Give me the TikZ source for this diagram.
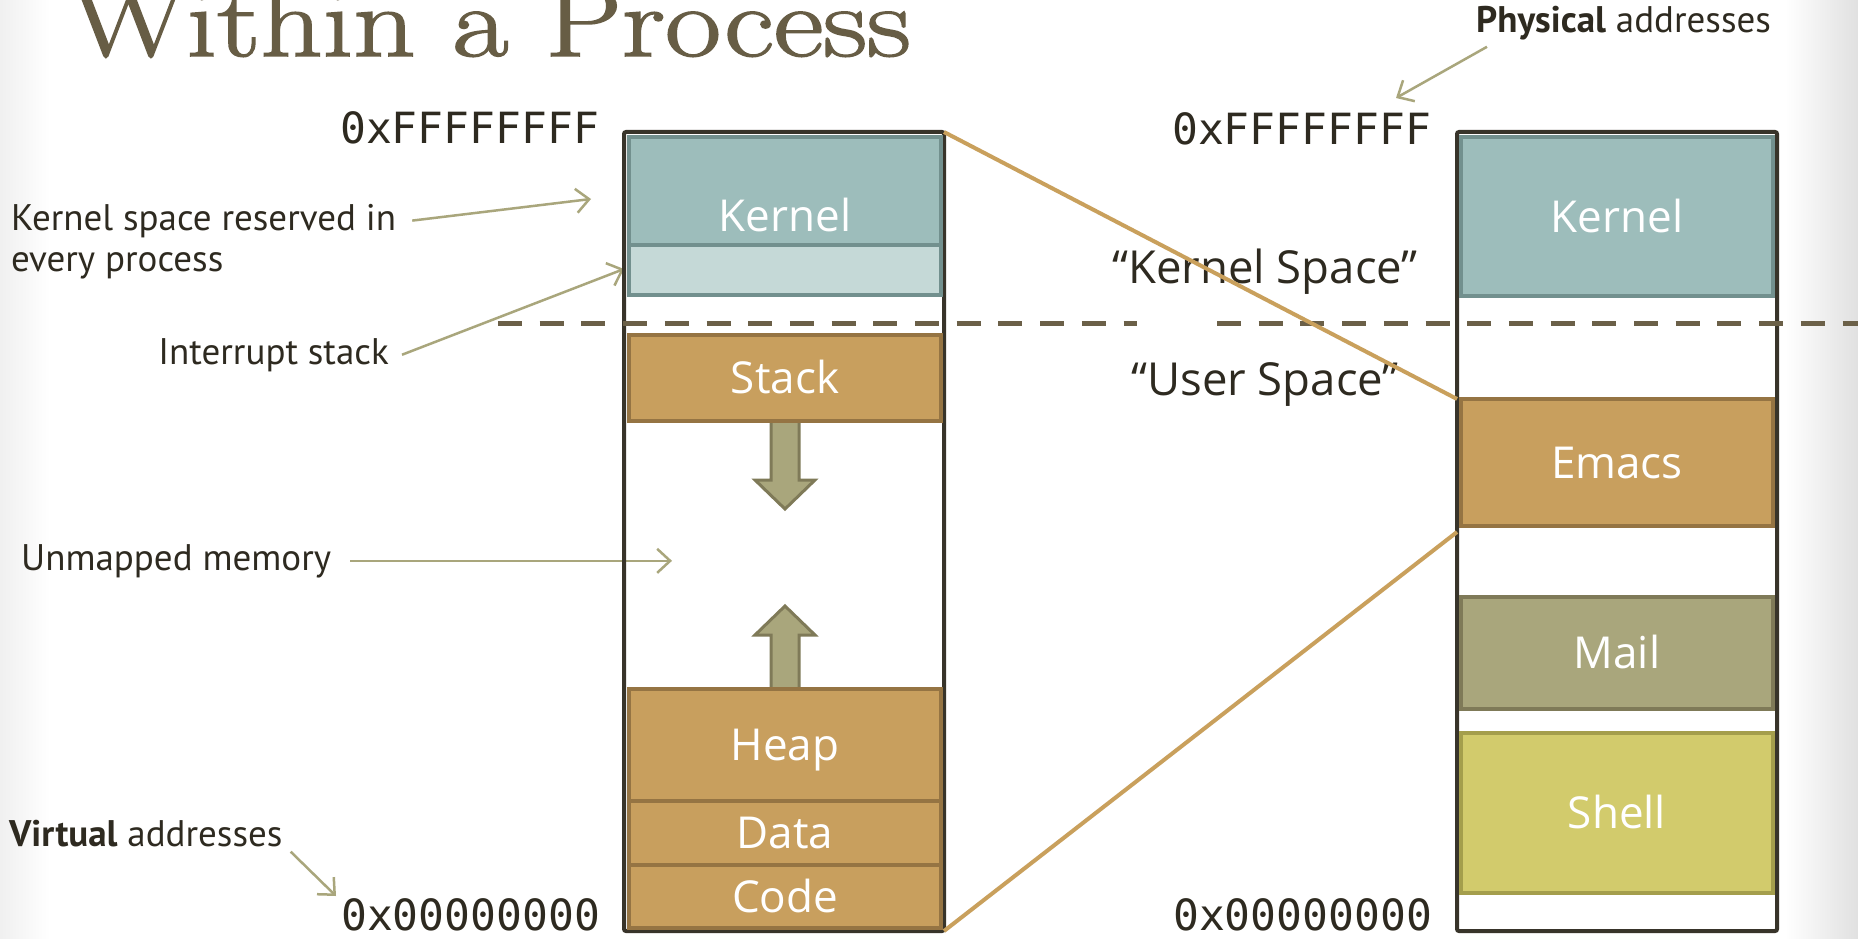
\documentclass[tikz,border=0pt]{standalone}
\usepackage{fontspec}
\usetikzlibrary{arrows.meta,calc}
\newfontfamily\lblfont{Open Sans}
\newfontfamily\annofont{PT Sans}
\newfontfamily\addrfont{DejaVu Sans Mono}
\newfontfamily\titlefont{Latin Modern Roman}[FakeBold=1.5]
\definecolor{kfill}{HTML}{9DBDBB}
\definecolor{kedge}{HTML}{72908E}
\definecolor{ifill}{HTML}{C5D9D7}
\definecolor{ofill}{HTML}{C89F5E}
\definecolor{oedge}{HTML}{957443}
\definecolor{mfill}{HTML}{A9A67C}
\definecolor{medge}{HTML}{7F7A58}
\definecolor{sfill}{HTML}{D2CB6C}
\definecolor{sedge}{HTML}{A49E4C}
\definecolor{boxdark}{HTML}{38342A}
\definecolor{txtdark}{HTML}{2E2A20}
\definecolor{titlecol}{HTML}{675D45}
\definecolor{dashcol}{HTML}{6B6048}
\definecolor{linkcol}{HTML}{C9A05C}
\definecolor{arrcol}{HTML}{A9A67C}
\begin{document}
\begin{tikzpicture}[x=1pt,y=-1pt,
  block/.style={draw, line width=4pt, minimum width=312pt, inner sep=0pt, outer sep=0pt,
    text=white, text height=31.5pt, text depth=0pt, font=\lblfont\fontsize{44}{50}\selectfont},
  kblock/.style={block, fill=kfill, draw=kedge},
  iblock/.style={block, fill=ifill, draw=kedge},
  oblock/.style={block, fill=ofill, draw=oedge},
  mblock/.style={block, fill=mfill, draw=medge},
  sblock/.style={block, fill=sfill, draw=sedge},
  outerbox/.style={draw=boxdark, line width=4pt, rounded corners=2pt, inner sep=0pt, outer sep=0pt,
    minimum width=320pt, minimum height=799pt},
  anno/.style={inner sep=0pt, text=txtdark, font=\annofont\fontsize{37}{42}\selectfont},
  annoarrow/.style={draw=arrcol, line width=2.5pt, -{Straight Barb[length=13pt,width=24pt]}},
  addr/.style={inner sep=0pt, text=txtdark, font=\addrfont\fontsize{43}{45}\selectfont},
  spacelbl/.style={inner sep=0pt, text=txtdark, font=\lblfont\fontsize{45.5}{50}\selectfont},
  growarrow/.style={fill=mfill, draw=medge, line width=3pt, line join=miter},
  dashline/.style={draw=dashcol, line width=5pt, dash pattern=on 24pt off 17.7pt},
  link/.style={draw=linkcol, line width=4pt}
]
\useasboundingbox (0,0) rectangle (1858,939);
\fill[white] (0,0) rectangle (1858,939);
\shade[left color=white, right color=black!12] (1785,0) rectangle (1858,939);
\shade[left color=black!6, right color=white] (0,0) rectangle (50,939);

% annotations
\node[anno, anchor=base west] (kanno1) at (11,230) {Kernel space reserved in};
\node[anno, anchor=base west] (kanno2) at (11,271) {every process};
\node[anno, anchor=base east] (ianno) at (389,364) {Interrupt stack};
\node[anno, anchor=base west] (uanno) at (21,570) {Unmapped memory};
\node[anno, anchor=base west] (vanno) at (9,846) {{\bfseries Virtual} addresses};
\node[anno, anchor=base west] (panno) at (1476,33) {{\bfseries Physical} addresses};

\coordinate (kT) at (591,199);
\coordinate (iT) at (624,269);
\coordinate (uT) at (672,559);
\coordinate (vT) at (336,896);
\coordinate (pT) at (1396,98);

\draw[annoarrow] ([xshift=16pt]kanno1.east) -- (kT);
\draw[annoarrow] ([xshift=13pt]ianno.east) -- (iT);
\draw[annoarrow] ([xshift=19pt]uanno.east) -- (uanno.east -| uT);
\draw[annoarrow] ([xshift=8pt,yshift=-5pt]vanno.south east) -- (vT);
\draw[annoarrow] ([xshift=11pt,yshift=-6pt]panno.south west) -- (pT);

% outer boxes
\node[outerbox] (vbox) at (784,531.5) {};
\node[outerbox] (pbox) at (1617,531.5) {};

% growth arrows
\draw[growarrow] (771,421) -- (771,480) -- (755,480) -- (785,509) -- (815,480) -- (799,480) -- (799,421) -- cycle;
\draw[growarrow] (771,692) -- (771,635) -- (755,635) -- (785,606) -- (815,635) -- (799,635) -- (799,692) -- cycle;

% virtual blocks
\node[kblock, minimum height=158pt] (kernV) at (785,216) {Kernel};
\node[iblock, minimum height=50pt] (intr) at (785,270) {};
\node[oblock, minimum height=86pt] (stack) at (785,378) {Stack};
\node[oblock, minimum height=112pt] (heap) at (785,745) {Heap};
\node[oblock, minimum height=64pt] (data) at (785,833) {Data};
\node[oblock, minimum height=63pt] (code) at (785,896.5) {Code};

% physical blocks
\node[kblock, minimum height=159pt] (kernP) at (1617,216.5) {Kernel};
\node[oblock, minimum height=127pt] (emacs) at (1617,462.5) {Emacs};
\node[mblock, minimum height=112pt] (mail) at (1617,653) {Mail};
\node[sblock, minimum height=160pt] (shell) at (1617,813) {Shell};

% addresses
\node[addr, anchor=base west] (ffV) at (340,143) {0xFFFFFFFF};
\node[addr, anchor=base west] (zeroV) at (341,930) {0x00000000};
\node[addr, anchor=base west] (ffP) at (1172,145) {0xFFFFFFFF};
\node[addr, anchor=base west] (zeroP) at (1173,930) {0x00000000};

% space labels
\node[spacelbl, anchor=base] (ksp) at (1265,283) {“Kernel Space”};
\node[spacelbl, anchor=base] (usp) at (1265,395) {“User Space”};

% dashed separator
\draw[dashline] (498,323) -- (1137,323);
\draw[dashline] (1217,323) -- (1858,323);

% mapping lines
\draw[link] (vbox.north east) -- (pbox.west |- emacs.north);
\draw[link] (vbox.south east) -- ($(pbox.west |- emacs.south)+(0,6)$);

% title
\node[anchor=base west, inner sep=0pt, text=titlecol, font=\titlefont\fontsize{100}{100}\selectfont] (title) at (70,56) {\scalebox{1.22}[1]{Within a Process}};
\end{tikzpicture}
\end{document}
